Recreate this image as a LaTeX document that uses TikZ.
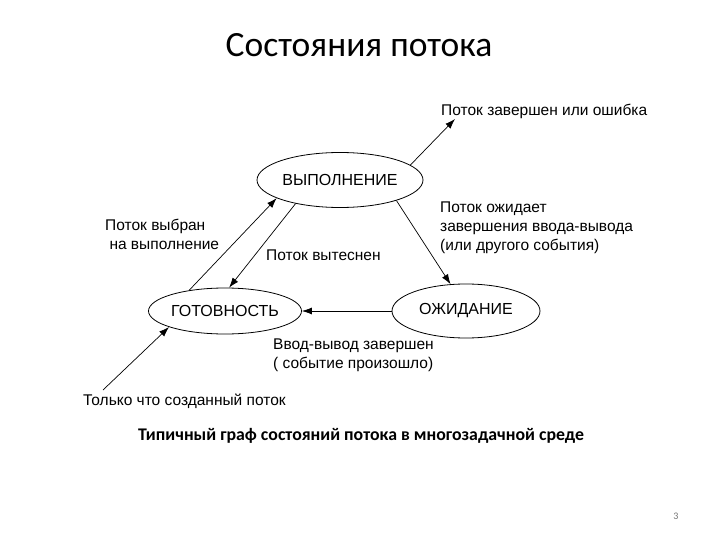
\documentclass[tikz,border=0pt]{standalone}
\usepackage{fontspec}
\setmainfont{Liberation Sans}
\newfontfamily\slidefont{Carlito}
\usetikzlibrary{arrows.meta, positioning, calc, shapes.geometric}
\definecolor{PageGray}{rgb}{0.45, 0.45, 0.45}

\begin{document}
\begin{tikzpicture}[
    x=1pt, y=-1pt,
    font=\fontsize{15.5}{19}\selectfont,
    state/.style={draw, ellipse, line width=0.8pt, inner sep=0pt, font=\fontsize{16}{19}\selectfont},
    note/.style={anchor=base west, inner sep=0pt, align=left},
    flow/.style={-{Latex[length=10pt, width=7pt]}, line width=0.7pt},
]
\useasboundingbox (0,0) rectangle (720,540);

% ---- заголовок ----
\node[font=\slidefont\fontsize{35.5}{42}\selectfont, anchor=base] (title) at (359,57) {Состояния потока};

% ---- состояния ----
\node[state, minimum width=166, minimum height=55] (run) at (340,180) {ВЫПОЛНЕНИЕ};
\node[state, minimum width=153, minimum height=46] (ready) at (225,311) {ГОТОВНОСТЬ};
\node[state, minimum width=148, minimum height=54] (wait) at (466,311) {ОЖИДАНИЕ};

% ---- свободные концы ----
\coordinate (doneend) at (455,119);
\coordinate (newstart) at (103,390);

% ---- переходы ----
\draw[flow] (run.12) -- (doneend);
\draw[flow] (ready.150) -- (run.196);
\draw[flow] (run.208) -- (ready.80);
\draw[flow] (run.-20) -- (wait.120);
\draw[flow] (wait.west) -- (ready.east);
\draw[flow] (newstart) -- (ready.196);

% ---- подписи (base = последняя строка) ----
\node[note] (donelbl) at (441,116) {Поток завершен или ошибка};
\node[note] (waitlbl) at (440,250) {Поток ожидает\\завершения ввода-вывода\\(или другого события)};
\node[note] (pickedlbl) at (105,249) {Поток выбран\\\ на выполнение};
\node[note] (preemptlbl) at (266,260) {Поток вытеснен};
\node[note] (iolbl) at (273,368) {Ввод-вывод завершен\\( событие произошло)};
\node[note] (newlbl) at (83,405) {Только что созданный поток};

% ---- подпись рисунка ----
\node[font=\slidefont\bfseries\fontsize{17.8}{21}\selectfont, anchor=base] (caption) at (361,440)
    {Типичный граф состояний потока в многозадачной среде};
\node[font=\slidefont\fontsize{10}{12}\selectfont, text=PageGray] (pagenum) at (676,516) {3};

\end{tikzpicture}
\end{document}
